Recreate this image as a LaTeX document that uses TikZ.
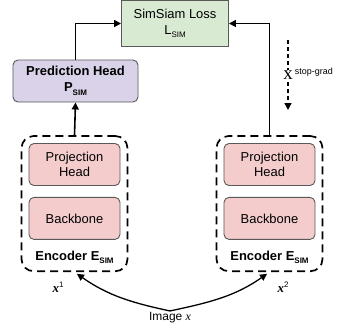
\documentclass[tikz,border=0pt]{standalone}
\usepackage{fontspec}
\setmainfont{Liberation Sans}
\newfontfamily\seriffont{Liberation Serif}
\usepackage{tikz}
\usetikzlibrary{arrows.meta,positioning,fit,backgrounds}

\definecolor{lossgreen}{HTML}{D9EAD3}
\definecolor{predpurple}{HTML}{D9D2E9}
\definecolor{blockred}{HTML}{F4CCCC}
\definecolor{edgegray}{HTML}{595959}

\newcommand{\simsub}[1]{\raisebox{-3.5bp}{\fontsize{8}{8}\selectfont #1}}
\newcommand{\vx}[1]{{\seriffont\bfseries\itshape x}\raisebox{5bp}{\fontsize{8}{8}\selectfont #1}}

\begin{document}
\begin{tikzpicture}[
  x=1bp, y=-1bp, font=\fontsize{13}{15.5}\selectfont, node distance=11bp,
  box/.style={draw=edgegray, line width=0.9bp, align=center, inner sep=2pt},
  loss/.style={box, fill=lossgreen, minimum width=107bp, minimum height=46bp},
  pred/.style={box, rounded corners=5bp, fill=predpurple, minimum width=125bp, minimum height=42bp, font=\fontsize{13}{16}\selectfont\bfseries},
  blk/.style={box, rounded corners=5bp, fill=blockred, minimum width=91bp, minimum height=42bp},
  enc/.style={draw, line width=1.7bp, dash pattern=on 8bp off 5bp, rounded corners=12bp, inner sep=7bp},
  arr/.style={draw, line width=1.6bp, -{Triangle[length=7bp,width=7bp]}}
]
\useasboundingbox (0,0) rectangle (341,329);

\node[loss] (loss) at (175,23.5) {SimSiam Loss\\L\simsub{SIM}};
\node[pred] (pred) at (75.5,81) {Prediction Head\\P\simsub{SIM}};

% left encoder
\node[blk] (proj1) at (74.5,164.5) {Projection\\Head};
\node[blk, below=of proj1] (back1) {Backbone};
\node[below=11bp of back1, inner sep=0pt, font=\fontsize{13}{15}\selectfont\bfseries] (lab1) {Encoder E\simsub{SIM}};
% right encoder
\node[blk] (proj2) at (269.5,164.5) {Projection\\Head};
\node[blk, below=of proj2] (back2) {Backbone};
\node[below=11bp of back2, inner sep=0pt, font=\fontsize{13}{15}\selectfont\bfseries] (lab2) {Encoder E\simsub{SIM}};

\begin{scope}[on background layer]
  \node[enc, fit=(proj1)(back1)(lab1)] (enc1) {};
  \node[enc, fit=(proj2)(back2)(lab2)] (enc2) {};
\end{scope}

\node (v1) at (58,287) {\vx{1}};
\node (v2) at (283,287) {\vx{2}};
\node[font=\fontsize{12}{14}\selectfont, inner sep=1.5bp] (img) at (170,318) {Image {\seriffont\itshape x}};

% stop-grad
\coordinate (sgtop) at (288,40);
\coordinate (sgbot) at (288,110);
\draw[arr, line width=1.3bp, dash pattern=on 4bp off 3bp] (sgtop) -- node[fill=white, inner sep=0.3pt, font=\fontsize{19}{19}\selectfont\seriffont] (sgx) {x} (sgbot);
\node[anchor=west, inner sep=1bp, font=\fontsize{9}{10}\selectfont] (sglab) at ([yshift=3bp]sgx.east) {stop-grad};

\draw[arr] (enc1.north) -- (pred.south);
\draw[arr] (pred.north) |- (loss.west);
\draw[arr] (enc2.north) |- (loss.east);
\draw[arr, line width=1.3bp, shorten >=3bp] (img.north) to[out=168,in=-35] (enc1.south);
\draw[arr, line width=1.3bp, shorten >=3bp] (img.north) to[out=12,in=-145] (enc2.south);
\end{tikzpicture}
\end{document}
